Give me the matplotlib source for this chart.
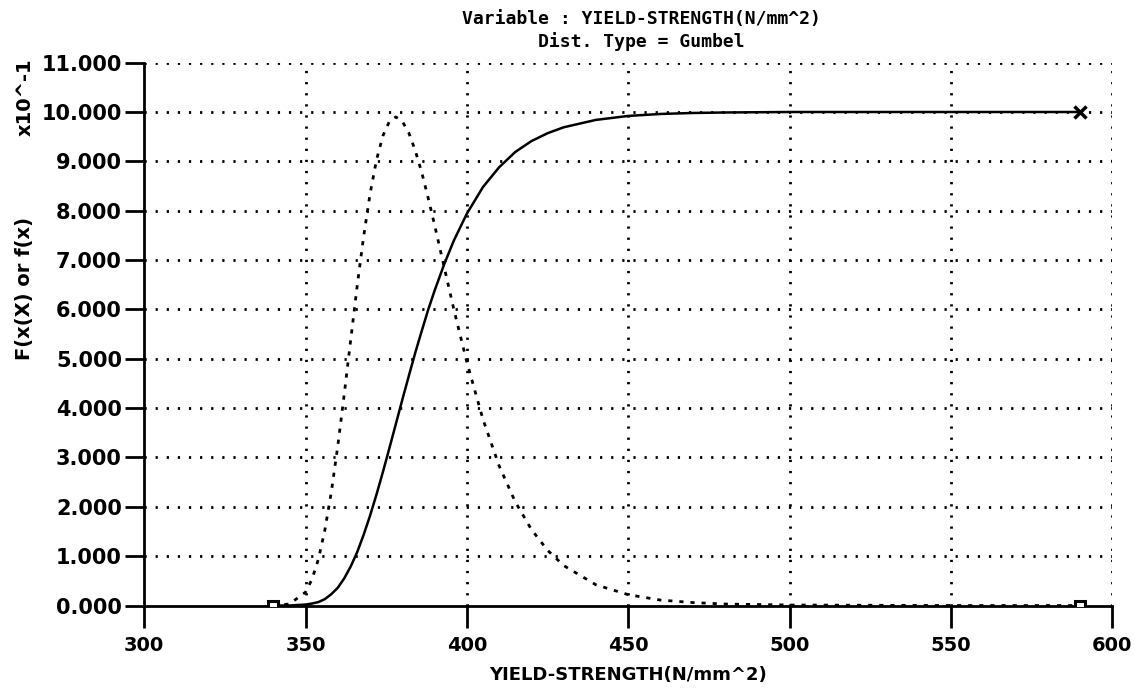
import numpy as np
import matplotlib
matplotlib.use("Agg")
import matplotlib.pyplot as plt

# values (y axis is x10^-1)
strength = [340, 345, 350, 352, 354, 356, 358, 360, 362, 364, 366, 368, 370,
            372, 374, 376, 378, 380, 382, 384, 386, 388, 390, 393, 396, 400,
            405, 410, 415, 420, 425, 430, 440, 450, 460, 470, 480, 500, 550, 590]
cdf = [0.0, 0.0, 0.02, 0.04, 0.07, 0.13, 0.23, 0.36, 0.55, 0.79, 1.08, 1.43, 1.82,
       2.25, 2.71, 3.19, 3.68, 4.17, 4.65, 5.12, 5.56, 5.99, 6.38, 6.92, 7.40, 7.94,
       8.48, 8.88, 9.19, 9.41, 9.57, 9.69, 9.84, 9.92, 9.96, 9.98, 9.99, 10.0, 10.0, 10.0]
pdf = [0.0, 0.03, 0.27, 0.53, 0.94, 1.53, 2.30, 3.23, 4.28, 5.38, 6.47, 7.47, 8.34,
       9.03, 9.52, 9.81, 9.90, 9.81, 9.58, 9.22, 8.78, 8.26, 7.71, 6.85, 5.99, 4.93,
       3.77, 2.83, 2.10, 1.54, 1.12, 0.81, 0.42, 0.22, 0.11, 0.06, 0.03, 0.01, 0.0, 0.0]

x_ticks = [300, 350, 400, 450, 500, 550, 600]
y_ticks = list(range(0, 12))
y_labels = ['%.3f' % v for v in y_ticks]

fig = plt.figure(figsize=(11.35, 6.96), dpi=100)
ax = fig.add_axes([0.127, 0.13, 0.853, 0.78])

dots = (0, (0.8, 3.2))
for xv in x_ticks[1:]:
    ax.axvline(xv, color='black', lw=2, linestyle=dots, zorder=1)
for yv in y_ticks[1:]:
    ax.axhline(yv, color='black', lw=2, linestyle=dots, zorder=1)

ax.plot(strength, pdf, color='black', lw=2, linestyle=(0, (1.5, 2.5)), zorder=2)
ax.plot(strength, cdf, color='black', lw=1.8, zorder=3)
ax.plot([strength[0], strength[-1]], [0, 0], 's', color='black', ms=7,
        mfc='white', mew=2.2, zorder=4)
ax.plot([strength[-1]], [cdf[-1]], 'x', color='black', ms=8, mew=2.5, zorder=4)

ax.set_xlim(300, 600)
ax.set_ylim(0, 11)
for s in ['top', 'right']:
    ax.spines[s].set_visible(False)
for s in ['left', 'bottom']:
    ax.spines[s].set_linewidth(2)

ax.set_xticks(x_ticks)
ax.set_xticklabels([str(v) for v in x_ticks], fontsize=14, fontweight='bold')
ax.set_yticks(y_ticks)
ax.set_yticklabels(y_labels, fontsize=15, fontweight='bold', family='DejaVu Sans')
ax.tick_params(axis='x', direction='out', length=16, width=2, pad=6)
ax.tick_params(axis='y', direction='out', length=14, width=2, pad=2)

ax.set_xlabel('YIELD-STRENGTH(N/mm^2)', fontsize=13, fontweight='bold', labelpad=8)
fig.text(0.022, 0.585, 'F(x(X) or f(x)', rotation=90, fontsize=14,
         fontweight='bold', ha='center', va='center')
fig.text(0.022, 0.86, 'x10^-1', rotation=90, fontsize=14,
         fontweight='bold', ha='center', va='center')

fig.text(0.565, 0.972, 'Variable : YIELD-STRENGTH(N/mm^2)', fontsize=13,
         fontweight='bold', ha='center', va='center', family='DejaVu Sans Mono')
fig.text(0.565, 0.94, 'Dist. Type = Gumbel', fontsize=13,
         fontweight='bold', ha='center', va='center', family='DejaVu Sans Mono')

fig.savefig('out.png', dpi=100)
